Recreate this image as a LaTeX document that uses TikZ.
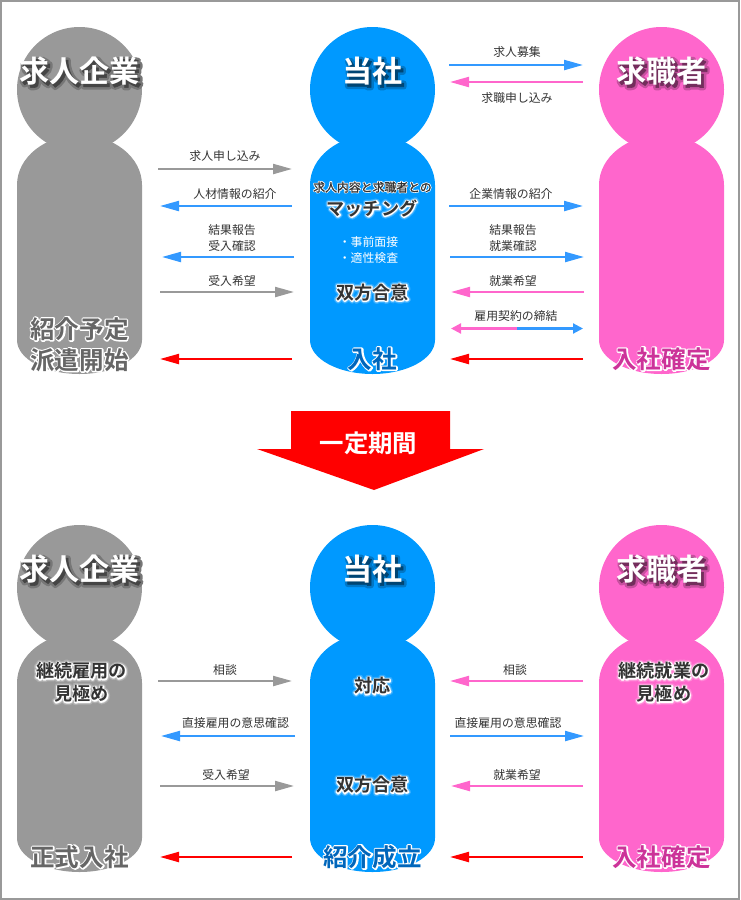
\documentclass[tikz,border=0pt]{standalone}
\usepackage{fontspec}
\setmainfont{Noto Sans CJK JP}[BoldFont=Noto Sans CJK JP Bold]
\newfontfamily\jprim[FakeBold=11]{Noto Sans CJK JP Bold}
\newfontfamily\jpglow[FakeBold=18]{Noto Sans CJK JP Bold}
\newfontfamily\jpfar[FakeBold=30]{Noto Sans CJK JP Bold}
\newfontfamily\jpsoft[FakeBold=2]{Noto Sans CJK JP Bold}
\newfontfamily\jpmedium[FakeBold=1]{Noto Sans CJK JP}
\usetikzlibrary{arrows.meta}
\definecolor{figgray}{HTML}{999999}
\definecolor{figblue}{HTML}{0099FF}
\definecolor{figpink}{HTML}{FF66CC}
\definecolor{arrblue}{HTML}{3399FF}
\definecolor{arrpink}{HTML}{FF66CC}
\definecolor{inkdark}{HTML}{333333}
\definecolor{inkgray}{HTML}{666666}
\definecolor{inkblue}{HTML}{0066BB}
\definecolor{inkpink}{HTML}{CC3399}
% round joins for the stroked letters
\newcommand{\roundjoin}{\special{pdf:code 1 j}}
% rim: text colour, text
\newcommand{\rimtext}[2]{\roundjoin\rlap{\textcolor{white}{\jprim #2}}\textcolor{#1}{\bfseries #2}}
% glow: text colour, body colour, text
\newcommand{\glowtext}[3]{\roundjoin\rlap{\textcolor{white!20!#2}{\jpfar #3}}\rlap{\textcolor{white!50!#2}{\jpglow #3}}\rimtext{#1}{#3}}
% title: body colour, text
\newcommand{\headtext}[2]{\roundjoin\rlap{\kern1.5pt\raisebox{-1.5pt}{\textcolor{black!22!#1}{\jpglow #2}}}\rlap{\kern1.5pt\raisebox{-1.5pt}{\textcolor{black!55!#1}{\jpsoft #2}}}\textcolor{white}{\bfseries #2}}
\begin{document}
\begin{tikzpicture}[
  x=0.75pt, y=-0.75pt,
  every node/.style={inner sep=0pt, align=center},
  small/.style={font=\fontsize{8.9}{12}\selectfont, text=inkdark, yshift=-0.5pt},
  title/.style={font=\fontsize{22.5}{26}\selectfont},
  foot/.style={font=\fontsize{18.4}{23.25}\selectfont},
  mid/.style={font=\fontsize{13.6}{17.25}\selectfont},
  link/.style={line width=1.6pt, -{Triangle[length=14.25pt, width=7.5pt]}},
  tie/.style={line width=1.6pt, -{Triangle[length=7.5pt, width=7.5pt]}},
]
  \useasboundingbox (0,0) rectangle (740,900);
  \draw[figgray, line width=1.5pt] (1,1) rectangle (739,899);

  % Figures, upper row and lower row
  \foreach \cx/\cy/\col in {79.5/0/figgray, 372.5/0/figblue, 661.5/0/figpink,
                            79.5/498/figgray, 372.5/498/figblue, 661.5/498/figpink}{
    \fill[\col] (\cx,89.5+\cy) circle [radius=62.5];
    \fill[\col] (\cx-62.5,185+\cy)
      arc [start angle=180, end angle=360, x radius=62.5, y radius=50]
      -- (\cx+62.5,340+\cy)
      arc [start angle=0, end angle=180, x radius=62.5, y radius=34] -- cycle;
  }

  % Upper titles
  \node[title] (compA) at (79.5,72.5) {\headtext{figgray}{求人企業}};
  \node[title] (selfA) at (372.5,72.5) {\headtext{figblue}{当社}};
  \node[title] (seekA) at (661.5,72.5) {\headtext{figpink}{求職者}};

  % Upper texts in the figures
  \node[small] (matchA) at (372.5,186.5) {\roundjoin\rlap{\textcolor{white}{\jprim 求人内容と求職者との}}\textcolor{inkdark}{\jpmedium 求人内容と求職者との}};
  \node[mid] (matchB) at (372,208.5) {\glowtext{inkdark}{figblue}{マッチング}};
  \node[small, text=white] (checkA) at (368.5,249) {・事前面接\\・適性検査};
  \node[mid] (agreeA) at (372.5,292.5) {\glowtext{inkdark}{figblue}{双方合意}};
  \node[foot] (planA) at (79.5,344.5) {\rimtext{inkgray}{紹介予定}\\\rimtext{inkgray}{派遣開始}};
  \node[foot] (joinA) at (372.5,359) {\rimtext{inkblue}{入社}};
  \node[foot] (fixA) at (661.5,359) {\rimtext{inkpink}{入社確定}};

  % Arrow
  \fill[red] (291,411) -- (450,411) -- (450,449) -- (484,449) -- (374,490)
    -- (257,449) -- (291,449) -- cycle;
  \node[font=\fontsize{18.3}{22}\selectfont\bfseries, text=white] (period) at (368.5,443.5) {一定期間};

  % Lower titles
  \node[title] (compB) at (79.5,570.5) {\headtext{figgray}{求人企業}};
  \node[title] (selfB) at (372.5,570.5) {\headtext{figblue}{当社}};
  \node[title] (seekB) at (661.5,570.5) {\headtext{figpink}{求職者}};

  % Lower texts in the figures
  \node[mid] (watchA) at (81.5,682.5) {\glowtext{inkdark}{figgray}{継続雇用の}\\\glowtext{inkdark}{figgray}{見極め}};
  \node[mid] (watchB) at (664,682.5) {\glowtext{inkdark}{figpink}{継続就業の}\\\glowtext{inkdark}{figpink}{見極め}};
  \node[mid] (reply) at (372.5,686) {\glowtext{inkdark}{figblue}{対応}};
  \node[mid] (agreeB) at (372.5,785) {\glowtext{inkdark}{figblue}{双方合意}};
  \node[foot] (entry) at (79.5,857) {\rimtext{inkgray}{正式入社}};
  \node[foot] (done) at (372.5,857) {\rimtext{inkblue}{紹介成立}};
  \node[foot] (fixB) at (661.5,857) {\rimtext{inkpink}{入社確定}};

  % Connectors: name/start/end/y/colour
  \foreach \nm/\xa/\xb/\yy/\col in {
    a/158/292/169/figgray, b/292/160/206/arrblue, c/294/162/257/arrblue,
    d/160/294/292/figgray, e/292/160/359/red,
    f/449/583/65/arrblue, g/583/450/82/arrpink, h/449/583/206/arrblue,
    i/450/584/257/arrblue, j/584/451/292/arrpink, k/583/450/359/red,
    l/158/292/681/figgray, m/295/161/736/arrblue, n/160/294/786/figgray,
    o/292/160/857/red, p/583/450/681/arrpink, q/450/584/736/arrblue,
    r/583/451/786/arrpink, s/583/450/857/red}{
    \coordinate (\nm0) at (\xa,\yy);
    \coordinate (\nm1) at (\xb,\yy);
    \draw[link, \col] (\nm0) -- (\nm1);
  }

  % Two-coloured contract arrow
  \coordinate (tieL) at (451,328.5);
  \coordinate (tieM) at (517,328.5);
  \coordinate (tieR) at (583,328.5);
  \draw[tie, arrpink] (tieM) -- (tieL);
  \draw[tie, arrblue] (tieM) -- (tieR);

  % Arrow labels
  \node[small] (la) at (225,155) {求人申し込み};
  \node[small] (lb) at (235,193) {人材情報の紹介};
  \node[small] (lc) at (232,237) {結果報告\\受入確認};
  \node[small] (ld) at (232,280) {受入希望};
  \node[small] (lf) at (517,51) {求人募集};
  \node[small] (lg) at (517,97) {求職申し込み};
  \node[small] (lh) at (511,193) {企業情報の紹介};
  \node[small] (li) at (513,237) {結果報告\\就業確認};
  \node[small] (lj) at (513,280) {就業希望};
  \node[small] (lt) at (516,315) {雇用契約の締結};
  \node[small] (ll) at (225,669) {相談};
  \node[small] (lm) at (235.5,722) {直接雇用の意思確認};
  \node[small] (ln) at (226,774) {受入希望};
  \node[small] (lp) at (515,669) {相談};
  \node[small] (lq) at (508,722) {直接雇用の意思確認};
  \node[small] (lr) at (517,774) {就業希望};
\end{tikzpicture}
\end{document}
